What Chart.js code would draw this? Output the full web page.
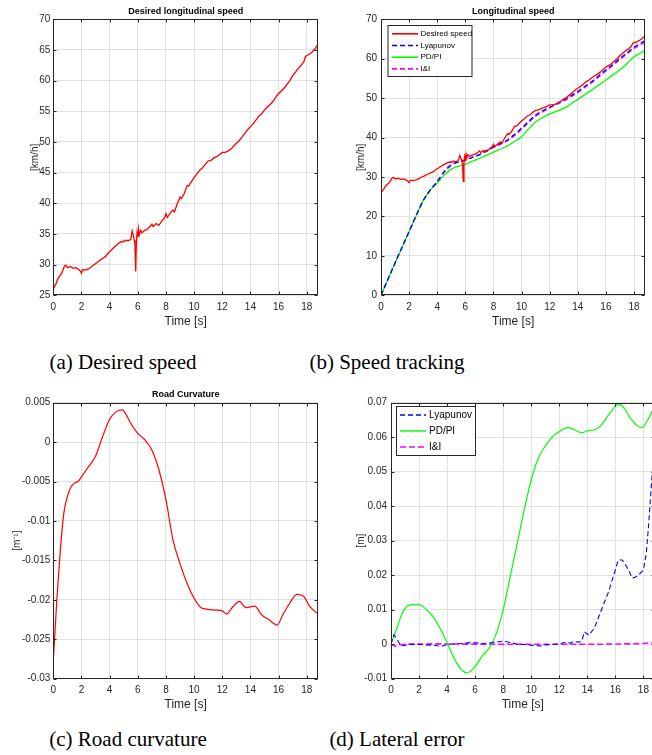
<!DOCTYPE html>
<html>
<head>
<meta charset="utf-8">
<script src="https://cdn.jsdelivr.net/npm/chart.js@4.4.0/dist/chart.umd.min.js"></script>
<style>
  html, body { margin: 0; padding: 0; background: #fff; }
  body { width: 652px; height: 755px; position: relative; overflow: hidden; }
  canvas { position: absolute; }
  .caption {
    position: absolute;
    font-family: "Liberation Serif", "Times New Roman", serif;
    font-size: 21px;
    color: #000;
    white-space: nowrap;
    transform: translate(-50%, -50%);
  }
</style>
</head>
<body>
<canvas id="chartA" width="326" height="340" style="left:0px;top:0px"></canvas>
<canvas id="chartB" width="326" height="340" style="left:326px;top:0px"></canvas>
<canvas id="chartC" width="326" height="340" style="left:0px;top:380px"></canvas>
<canvas id="chartD" width="340" height="340" style="left:326px;top:380px"></canvas>

<div class="caption" style="left:123px;top:362px">(a) Desired speed</div>
<div class="caption" style="left:387px;top:362px">(b) Speed tracking</div>
<div class="caption" style="left:128px;top:739px">(c) Road curvature</div>
<div class="caption" style="left:397px;top:739px">(d) Lateral error</div>

<script>
// Желаемая скорость, км/ч (общая для (a) и (b))
const desiredTime = [
  0, 0.1, 0.2, 0.3, 0.4, 0.5, 0.6, 0.7, 0.8, 0.9, 1.0, 1.2, 1.4, 1.6, 1.8, 1.9, 2.0, 2.1, 2.3, 2.5,
  2.7, 2.9, 3.1, 3.3, 3.5, 3.7, 3.9, 4.1, 4.3, 4.5, 4.7, 4.9, 5.0, 5.1, 5.3, 5.5, 5.6, 5.7, 5.75, 5.8,
  5.85, 5.9, 5.95, 6.0, 6.05, 6.1, 6.2, 6.3, 6.5, 6.7, 6.9, 7.0, 7.1, 7.3, 7.5, 7.7, 7.9, 8.0, 8.1, 8.3,
  8.5, 8.6, 8.8, 9.0, 9.1, 9.3, 9.5, 9.6, 9.8, 10.0, 10.2, 10.4, 10.6, 10.8, 11.0, 11.2, 11.4, 11.6, 11.8, 12.0,
  12.2, 12.4, 12.6, 12.8, 13.0, 13.2, 13.4, 13.6, 13.8, 14.0, 14.2, 14.4, 14.6, 14.8, 15.0, 15.2, 15.4, 15.6, 15.8, 16.0,
  16.2, 16.4, 16.6, 16.8, 17.0, 17.2, 17.4, 17.6, 17.8, 17.9, 18.0, 18.2, 18.4, 18.6, 18.7, 18.8
];
const desiredSpeed = [
  26.0, 26.5, 26.9, 27.6, 28.0, 28.3, 28.6, 29.2, 29.8, 29.9, 29.5, 29.7, 29.4, 29.5, 29.2, 29.0, 28.6, 29.2, 29.1, 29.3,
  29.6, 30.0, 30.3, 30.7, 31.0, 31.3, 31.9, 32.3, 32.8, 33.2, 33.6, 33.8, 33.7, 34.0, 33.9, 34.1, 35.5, 34.6, 34.0, 33.2,
  28.9, 33.5, 35.2, 34.5, 35.8, 34.8, 35.6, 35.2, 35.6, 35.8, 36.3, 36.6, 36.2, 36.7, 36.4, 37.1, 37.6, 38.3, 37.7, 38.4,
  38.9, 38.6, 39.9, 41.0, 40.8, 41.6, 42.9, 42.8, 43.5, 44.2, 44.8, 45.4, 45.8, 46.4, 46.9, 47.0, 47.4, 47.6, 47.9, 48.3,
  48.3, 48.5, 48.8, 49.3, 49.8, 50.2, 50.8, 51.4, 52.0, 52.5, 53.0, 53.6, 54.2, 54.6, 55.2, 55.7, 56.1, 56.6, 57.3, 57.9,
  58.3, 58.8, 59.4, 60.0, 60.8, 61.4, 62.0, 62.5, 63.1, 63.9, 64.1, 64.3, 64.7, 65.2, 65.6, 65.8
];

// Скорость при разных регуляторах, км/ч
const trackTime = [
  0, 0.5, 1, 1.5, 2, 2.5, 3, 3.5, 4, 4.5, 5, 5.5, 6, 6.5, 7, 7.5, 8, 8.5, 9, 9.5,
  10, 10.5, 11, 11.5, 12, 12.5, 13, 13.5, 14, 14.5, 15, 15.5, 16, 16.5, 17, 17.5, 18, 18.5, 18.8
];
const lyapunovSpeed = [
  0, 4.1, 8.2, 12.2, 16.2, 20.2, 24.0, 26.7, 28.8, 31.3, 33.0, 33.8, 34.3, 35.0, 35.7, 36.7, 37.7, 38.5, 39.4, 40.8,
  42.4, 44.1, 45.7, 46.8, 47.7, 48.6, 49.5, 50.6, 51.7, 53.0, 54.2, 55.7, 57.2, 58.6, 60.1, 61.5, 62.9, 64.0, 64.6
];
const pdpiSpeed = [
  0, 4.1, 8.2, 12.2, 16.2, 20.2, 24.0, 26.6, 28.5, 30.5, 32.0, 32.7, 33.2, 34.0, 34.7, 35.5, 36.3, 37.1, 37.9, 39.0,
  40.2, 42.2, 44.0, 45.1, 46.0, 46.7, 47.4, 48.5, 49.7, 50.9, 52.1, 53.3, 54.6, 55.9, 57.2, 58.8, 60.5, 61.5, 62.2
];
const iiSpeed = [
  0, 4.1, 8.2, 12.2, 16.2, 20.2, 24.0, 26.7, 28.9, 31.5, 33.2, 33.9, 34.3, 35.0, 35.6, 36.5, 37.5, 38.3, 39.2, 40.5,
  42.1, 43.8, 45.4, 46.5, 47.5, 48.4, 49.3, 50.3, 51.4, 52.7, 53.9, 55.4, 56.9, 58.3, 59.8, 61.2, 62.6, 63.6, 64.2
];

// Кривизна дороги, 1/м
const curvatureTime = [
  0, 0.1, 0.25, 0.5, 0.75, 1.0, 1.25, 1.5, 1.75, 2, 2.5, 3, 3.5, 4, 4.5, 4.9, 5.2, 5.5, 6, 6.5,
  7, 7.5, 8, 8.5, 9, 9.5, 10, 10.5, 11, 11.5, 12, 12.3, 12.7, 13.2, 13.7, 14.3, 14.8, 15.3, 15.9, 16.3,
  16.8, 17.3, 17.8, 18.2, 18.8
];
const curvature = [
  -0.0276, -0.0247, -0.0200, -0.0137, -0.0090, -0.0069, -0.0057, -0.0052, -0.0050, -0.0044, -0.0031, -0.0018, 0.0007, 0.0029, 0.0039, 0.0041, 0.0034, 0.0024, 0.0011, 0.0003,
  -0.0010, -0.0035, -0.0073, -0.0124, -0.0154, -0.0179, -0.0198, -0.0210, -0.0212, -0.0213, -0.0214, -0.0218, -0.0210, -0.0202, -0.0210, -0.0208, -0.0219, -0.0225, -0.0232, -0.0219,
  -0.0204, -0.0193, -0.0196, -0.0208, -0.0218
];

// Боковая ошибка, м
const lyapunovErrorTime = [
  0, 0.2, 0.4, 0.7, 1, 1.5, 2, 2.5, 3, 3.6, 4, 4.5, 5, 5.8, 6.5, 7, 7.5, 8, 8.5, 9,
  9.5, 10, 10.7, 11, 11.5, 12, 12.5, 12.8, 13, 13.4, 13.6, 13.8, 14.1, 14.5, 15, 15.5, 16, 16.2, 16.5, 16.8,
  17, 17.2, 17.6, 18, 18.2, 18.4, 18.5, 18.65, 18.8
];
const lyapunovError = [
  0, 0.0027, 0.0017, -0.0005, -0.0003, 0, -0.0001, -0.0002, -0.0003, -0.0006, -0.0001, 0.0001, 0.0002, 0.0005, 0.0002, 0.0003, 0.0006, 0.0009, 0.0005, 0,
  -0.0001, -0.0003, -0.0005, -0.0002, -0.0001, 0.0001, 0.0006, 0.0003, 0.0008, 0.0006, 0.0009, 0.0036, 0.0026, 0.0046, 0.0099, 0.0150, 0.0215, 0.0244, 0.0244, 0.0225,
  0.0210, 0.0191, 0.0198, 0.0215, 0.0260, 0.0360, 0.0420, 0.0505, 0.0580
];
const pdpiErrorTime = [
  0, 0.25, 0.5, 0.75, 1, 1.5, 2, 2.5, 3, 3.5, 4, 4.5, 5, 5.4, 6, 6.5, 7, 7.5, 8, 8.5,
  9, 9.5, 10, 10.5, 11, 11.5, 12, 12.6, 13, 13.6, 14, 14.6, 15, 15.5, 16, 16.2, 16.6, 17, 17.5, 17.9,
  18.3, 18.8
];
const pdpiError = [
  0, 0.0028, 0.0056, 0.0085, 0.0104, 0.0115, 0.0115, 0.0101, 0.0080, 0.0046, 0.0004, -0.0041, -0.0073, -0.0083, -0.0065, -0.0034, -0.0012, 0.0030, 0.0099, 0.0196,
  0.0292, 0.0389, 0.0476, 0.0539, 0.0574, 0.0601, 0.0616, 0.0628, 0.0623, 0.0613, 0.0618, 0.0623, 0.0635, 0.0664, 0.0690, 0.0696, 0.0686, 0.0660, 0.0635, 0.0628,
  0.0649, 0.0690
];
const iiErrorTime = [0, 0.15, 0.3, 0.6, 1, 3, 6, 9, 12, 15, 17, 18, 18.5, 18.8];
const iiError = [0, -0.0003, -0.0006, -0.0002, 0, 0.0001, 0, 0, 0, 0, 0.0001, 0.0002, 0.0004, 0.0004];

const timeMax = 18.8;
const axisColor = "#262626";
const gridColor = "#e2e2e2";

Chart.defaults.font.family = "'Liberation Sans', Arial, sans-serif";
Chart.defaults.color = axisColor;

const toPoints = (xs, ys) => xs.map((x, i) => ({ x: x, y: ys[i] }));

// Рамка вокруг графика с засечками внутрь, как в MATLAB
const framePlugin = {
  id: "frame",
  afterDraw(chart) {
    const { ctx, chartArea: a, scales } = chart;
    const L = Math.round(a.left) + 0.5;
    const R = Math.round(a.right) - 0.5;
    const T = Math.round(a.top) + 0.5;
    const B = Math.round(a.bottom) - 0.5;
    ctx.save();
    ctx.strokeStyle = axisColor;
    ctx.lineWidth = 1;
    ctx.strokeRect(L, T, R - L, B - T);
    ctx.beginPath();
    scales.x.ticks.forEach((t) => {
      const px = Math.round(scales.x.getPixelForValue(t.value)) + 0.5;
      ctx.moveTo(px, B); ctx.lineTo(px, B - 3);
      ctx.moveTo(px, T); ctx.lineTo(px, T + 3);
    });
    scales.y.ticks.forEach((t) => {
      const py = Math.round(scales.y.getPixelForValue(t.value)) + 0.5;
      ctx.moveTo(L, py); ctx.lineTo(L + 3, py);
      ctx.moveTo(R, py); ctx.lineTo(R - 3, py);
    });
    ctx.stroke();
    ctx.restore();
  },
};

// Легенда в рамке внутри области графика
const boxLegendPlugin = {
  id: "boxLegend",
  afterDraw(chart, args, o) {
    const { ctx } = chart;
    ctx.save();
    ctx.fillStyle = "#fff";
    ctx.fillRect(o.left, o.top, o.width, o.height);
    ctx.strokeStyle = axisColor;
    ctx.lineWidth = 1;
    ctx.strokeRect(o.left + 0.5, o.top + 0.5, o.width, o.height);
    ctx.font = o.fontCss;
    ctx.textBaseline = "middle";
    chart.data.datasets.forEach((ds, i) => {
      const y = o.firstRow + i * o.rowHeight;
      ctx.strokeStyle = ds.borderColor;
      ctx.lineWidth = o.lineWidth;
      ctx.setLineDash(ds.borderDash || []);
      ctx.beginPath();
      ctx.moveTo(o.lineStart, y);
      ctx.lineTo(o.lineEnd, y);
      ctx.stroke();
      ctx.setLineDash([]);
      ctx.fillStyle = "#000";
      ctx.fillText(ds.label, o.textX, y);
    });
    ctx.restore();
  },
};

function makePanel(id, p) {
  const ctx = document.getElementById(id);
  return new Chart(ctx, {
    type: "line",
    data: { datasets: p.datasets },
    options: {
      responsive: false,
      animation: false,
      events: [],
      layout: { padding: { left: 0, top: p.padTop, right: p.padRight, bottom: 0 } },
      elements: { point: { radius: 0 } },
      plugins: {
        legend: { display: false },
        tooltip: { enabled: false },
        title: p.title
          ? {
              display: true,
              text: p.title,
              fullSize: false,
              color: "#000",
              font: { size: 9, weight: "bold" },
              padding: { top: p.titleTop, bottom: p.titleBottom },
            }
          : { display: false },
        boxLegend: p.legend || false,
      },
      scales: {
        x: {
          type: "linear",
          min: 0,
          max: timeMax,
          afterFit: (s) => { s.height = p.xHeight; },
          grid: { color: gridColor, drawTicks: false },
          border: { display: false },
          ticks: { stepSize: 2, includeBounds: false, autoSkip: false, maxRotation: 0, padding: p.xTickPad, font: { size: 10 } },
          title: { display: true, text: "Time [s]", font: { size: 12 }, padding: { top: 0, bottom: p.xTitlePad } },
        },
        y: {
          type: "linear",
          min: p.yMin,
          max: p.yMax,
          afterFit: (s) => { s.width = p.yWidth; },
          grid: { color: gridColor, drawTicks: false },
          border: { display: false },
          ticks: { stepSize: p.yStep, includeBounds: false, padding: p.yTickPad, font: { size: 10 }, callback: p.yFormat },
          title: { display: true, text: p.yLabel, font: { size: 10 }, padding: { top: p.yTitlePad, bottom: 0 } },
        },
      },
    },
    plugins: [framePlugin, boxLegendPlugin],
  });
}

// (a) Желаемая продольная скорость
makePanel("chartA", {
  title: "Desired longitudinal speed", titleTop: 6.6, titleBottom: 1.9,
  padTop: 0, padRight: 8, yWidth: 53.3, xHeight: 44.7,
  xTickPad: 6, xTitlePad: 10.8,
  yMin: 25, yMax: 70, yStep: 5, yTickPad: 3, yLabel: "[km/h]", yTitlePad: 29,
  datasets: [
    { label: "Desired speed", data: toPoints(desiredTime, desiredSpeed), borderColor: "#ff0000", borderWidth: 1.3 },
  ],
});

// (b) Отслеживание скорости
makePanel("chartB", {
  title: "Longitudinal speed", titleTop: 6.6, titleBottom: 1.9,
  padTop: 0, padRight: 6.7, yWidth: 55, xHeight: 44.7,
  xTickPad: 6, xTitlePad: 10.8,
  yMin: 0, yMax: 70, yStep: 10, yTickPad: 4, yLabel: "[km/h]", yTitlePad: 29,
  legend: { left: 61.5, top: 25, width: 84, height: 51, firstRow: 33.8, rowHeight: 11.7, lineStart: 66, lineEnd: 92, textX: 94.5, lineWidth: 1.6, fontCss: "8px 'Liberation Sans', Arial, sans-serif" },
  datasets: [
    { label: "Desired speed", data: toPoints(desiredTime, desiredSpeed), borderColor: "#ff0000", borderWidth: 1.3 },
    { label: "Lyapunov", data: toPoints(trackTime, lyapunovSpeed), borderColor: "#0000ff", borderWidth: 1.3, borderDash: [5, 3], cubicInterpolationMode: "monotone" },
    { label: "PD/PI", data: toPoints(trackTime, pdpiSpeed), borderColor: "#00ff00", borderWidth: 1.3, cubicInterpolationMode: "monotone" },
    { label: "I&I", data: toPoints(trackTime, iiSpeed), borderColor: "#ff00ff", borderWidth: 1.3, borderDash: [5, 3], cubicInterpolationMode: "monotone" },
  ],
});

// (c) Кривизна дороги
makePanel("chartC", {
  title: "Road Curvature", titleTop: 9.6, titleBottom: 2.3,
  padTop: 0, padRight: 8, yWidth: 53.3, xHeight: 41.3,
  xTickPad: 6, xTitlePad: 7.8,
  yMin: -0.03, yMax: 0.005, yStep: 0.005, yTickPad: 3, yLabel: "[m\u207B\u00B9]", yTitlePad: 11.7,
  yFormat: (v) => String(Number(v.toFixed(3))),
  datasets: [
    { label: "Curvature", data: toPoints(curvatureTime, curvature), borderColor: "#ff0000", borderWidth: 1.2, cubicInterpolationMode: "monotone" },
  ],
});

// (d) Боковая ошибка
makePanel("chartD", {
  title: null,
  padTop: 22.7, padRight: 11.4, yWidth: 65, xHeight: 41.3,
  xTickPad: 6, xTitlePad: 7.8,
  yMin: -0.01, yMax: 0.07, yStep: 0.01, yTickPad: 4, yLabel: "[m]", yTitlePad: 29,
  yFormat: (v) => String(Number(v.toFixed(2))),
  legend: { left: 70, top: 26, width: 79, height: 49, firstRow: 35, rowHeight: 16, lineStart: 74, lineEnd: 100, textX: 103, lineWidth: 1.4, fontCss: "10px 'Liberation Sans', Arial, sans-serif" },
  datasets: [
    { label: "Lyapunov", data: toPoints(lyapunovErrorTime, lyapunovError), borderColor: "#0000ff", borderWidth: 1.1, borderDash: [5, 3] },
    { label: "PD/PI", data: toPoints(pdpiErrorTime, pdpiError), borderColor: "#00ff00", borderWidth: 1.2, cubicInterpolationMode: "monotone" },
    { label: "I&I", data: toPoints(iiErrorTime, iiError), borderColor: "#ff00ff", borderWidth: 1.6, borderDash: [6, 3] },
  ],
});
</script>
</body>
</html>
